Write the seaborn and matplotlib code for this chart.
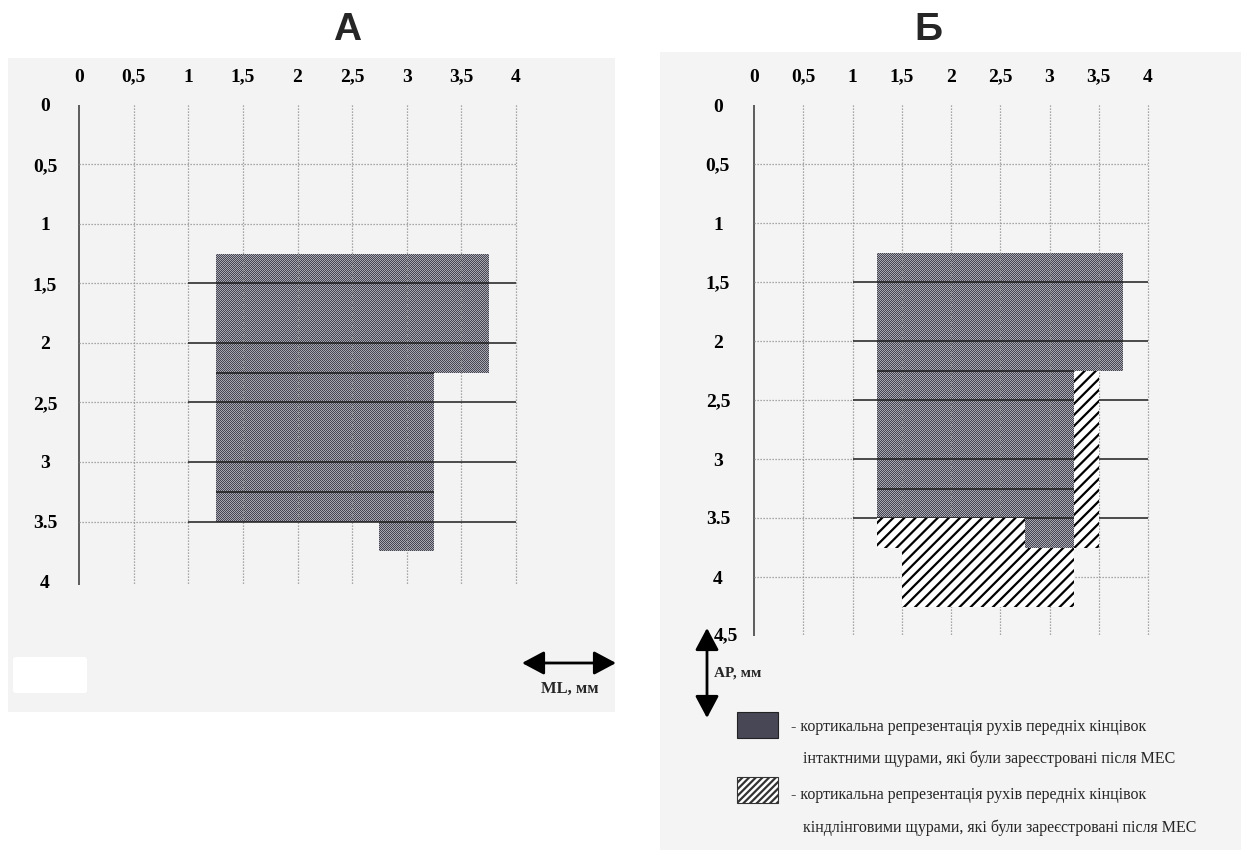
import numpy as np
import matplotlib
matplotlib.use("Agg")
import matplotlib.pyplot as plt
import seaborn as sns
from matplotlib.path import Path
from matplotlib.patches import PathPatch, Rectangle, FancyBboxPatch
from matplotlib.transforms import ScaledTranslation

# ---- coordinate grid (mm) ----
ml_ticks = [0, 0.5, 1, 1.5, 2, 2.5, 3, 3.5, 4]
ml_labels = ["0", "0,5", "1", "1,5", "2", "2,5", "3", "3,5", "4"]
ap_ticks_a = [0, 0.5, 1, 1.5, 2, 2.5, 3, 3.5, 4]
ap_labels_a = ["0", "0,5", "1", "1,5", "2", "2,5", "3", "3.5", "4"]
ap_ticks_b = [0, 0.5, 1, 1.5, 2, 2.5, 3, 3.5, 4, 4.5]
ap_labels_b = ["0", "0,5", "1", "1,5", "2", "2,5", "3", "3.5", "4", "4,5"]

# ---- forelimb representation, intact rats (ML from/to, AP from/to, mm) ----
intact_ml_from = [1.25, 1.25, 2.75]
intact_ml_to = [3.75, 3.25, 3.25]
intact_ap_from = [1.25, 2.25, 3.5]
intact_ap_to = [2.25, 3.5, 3.75]

# ---- additional representation, kindled rats ----
kindled_ml_from = [3.25, 1.25, 1.5]
kindled_ml_to = [3.5, 2.75, 3.25]
kindled_ap_from = [2.25, 3.5, 3.75]
kindled_ap_to = [3.75, 3.75, 4.25]

panel_titles = ["А", "Б"]
legend_intact = ["- кортикальна репрезентація рухів передніх кінцівок",
                 "інтактними щурами, які були зареєстровані після МЕС"]
legend_kindled = ["- кортикальна репрезентація рухів передніх кінцівок",
                  "кіндлінговими щурами, які були зареєстровані після МЕС"]

sns.set_theme(style="white")
plt.rcParams["font.family"] = ["Liberation Serif", "DejaVu Serif"]
plt.rcParams["hatch.linewidth"] = 1.6
plt.rcParams["hatch.color"] = "black"

W, H = 1241, 850
fig = plt.figure(figsize=(W / 100, H / 100), dpi=100, facecolor="white")


def fig_rect(x0, y0, x1, y1):
    return [x0 / W, 1 - y1 / H, (x1 - x0) / W, (y1 - y0) / H]


# page layer (panel backgrounds), in pixel units
ax_bg = fig.add_axes([0, 0, 1, 1], zorder=0)
ax_bg.set_xlim(0, W)
ax_bg.set_ylim(H, 0)
ax_bg.axis("off")
ax_bg.add_patch(Rectangle((8, 58), 607, 654, color="#f3f3f3", lw=0))
ax_bg.add_patch(Rectangle((660, 52), 581, 798, color="#f4f4f4", lw=0))
ax_bg.add_patch(FancyBboxPatch((16, 660), 68, 30, boxstyle="round,pad=3",
                               color="white", lw=0))

DOT = (0, (1.0, 1.4))


def halftone(ax, bars, ap_max, w_px, h_px):
    """Fine print-screen texture inside the shaded representation."""
    ii, jj = np.indices((h_px, w_px))
    dark = np.array([0x44, 0x44, 0x52]) / 255
    light = np.array([0xa8, 0xa8, 0xb0]) / 255
    img = np.where(((ii + jj) % 2 == 0)[..., None], dark, light)
    im = ax.imshow(img, extent=(0, 4, ap_max, 0), interpolation="nearest",
                   aspect="auto", zorder=1.5)
    path = Path.make_compound_path(
        *[b.get_path().transformed(b.get_patch_transform()) for b in bars])
    im.set_clip_path(PathPatch(path, transform=ax.transData))


def panel(rect_px, ap_max, ap_ticks, ap_labels, ylab_pad, extra_dotted):
    x0, y0, x1, y1 = rect_px
    ax = fig.add_axes(fig_rect(*rect_px), zorder=1)
    ax.patch.set_alpha(0)
    for s in ax.spines.values():
        s.set_visible(False)

    bars = ax.bar(x=intact_ml_from,
                  height=np.subtract(intact_ap_to, intact_ap_from),
                  width=np.subtract(intact_ml_to, intact_ml_from),
                  bottom=intact_ap_from,
                  align="edge", color="#76767f", linewidth=0, zorder=1)
    halftone(ax, bars, ap_max, x1 - x0, y1 - y0)

    line_end = ap_max + (0.03 if ap_max == 4 else 0)
    ax.vlines(0, 0, line_end, color="#505050", lw=1.3, zorder=3, clip_on=False)
    ax.vlines(ml_ticks[1:], 0, line_end, color="#8e8e8e", lw=0.9,
              linestyles=DOT, zorder=3, clip_on=False)
    ax.hlines([0.5, 1] + extra_dotted, 0, 4, color="#8e8e8e", lw=0.9,
              linestyles=DOT, zorder=3)
    rows = [1.5, 2, 2.5, 3, 3.5]
    ax.hlines(rows, 0, 1, color="#8e8e8e", lw=0.9, linestyles=DOT, zorder=3)
    ax.hlines(rows, 1, 4, color="#1c1c1c", lw=1.1, zorder=3)
    ax.hlines([2.25, 3.25], 1.25, 3.25, color="#1c1c1c", lw=1.1, zorder=3)

    ax.set_xlim(0, 4)
    ax.set_ylim(ap_max, 0)
    ax.xaxis.tick_top()
    ax.set_xticks(ml_ticks, ml_labels)
    ax.set_yticks(ap_ticks, ap_labels)
    ax.tick_params(axis="x", length=0, pad=14, labelsize=14, colors="black")
    ax.tick_params(axis="y", length=0, pad=ylab_pad, labelsize=14, colors="black")
    for lab in ax.get_xticklabels() + ax.get_yticklabels():
        lab.set_fontweight("bold")
    for lab in ax.get_yticklabels():
        lab.set_horizontalalignment("center")
    return ax


ax_a = panel((79, 105, 516, 581), 4, ap_ticks_a, ap_labels_a, 24.5, [])
ax_b = panel((754, 105, 1148, 636), 4.5, ap_ticks_b, ap_labels_b, 26, [4])

# the last AP label of panel Б sits just right of the AP arrow
last = ax_b.get_yticklabels()[-1]
last.set_transform(last.get_transform()
                   + ScaledTranslation(0.08, 0.02, fig.dpi_scale_trans))

ax_b.bar(x=kindled_ml_from,
         height=np.subtract(kindled_ap_to, kindled_ap_from),
         width=np.subtract(kindled_ml_to, kindled_ml_from),
         bottom=kindled_ap_from,
         align="edge", color="white", edgecolor="black", hatch="///",
         linewidth=0, zorder=4)

# annotation layer
ax_ov = fig.add_axes([0, 0, 1, 1], zorder=5)
ax_ov.set_xlim(0, W)
ax_ov.set_ylim(H, 0)
ax_ov.axis("off")
ax_ov.patch.set_alpha(0)

for (cx, title) in zip([347, 928], panel_titles):
    ax_ov.text(cx, 30, title, ha="center", va="center", fontsize=28,
               fontweight="bold", family=["Liberation Sans", "DejaVu Sans"])

arrow = dict(arrowstyle="<|-|>,head_length=0.75,head_width=0.4",
             color="black", lw=2, mutation_scale=18, shrinkA=0, shrinkB=0)
ax_ov.annotate("", xy=(616, 663), xytext=(522, 663), arrowprops=arrow)
ax_ov.text(570, 689, "ML, мм", ha="center", va="center", fontsize=12,
           fontweight="bold")
ax_ov.annotate("", xy=(707, 628), xytext=(707, 718), arrowprops=arrow)
ax_ov.text(714, 673, "AP, мм", ha="left", va="center", fontsize=11,
           fontweight="bold")

# legend
ax_ov.add_patch(Rectangle((737, 712), 41, 26, facecolor="#474756",
                          edgecolor="#222222", lw=0.8))
ax_ov.add_patch(Rectangle((737, 777), 41, 26, facecolor="white",
                          edgecolor="#333333", hatch="/////", lw=0.8))
LEG_FS = 11.5
ax_ov.text(791, 727, legend_intact[0], ha="left", va="center", fontsize=LEG_FS)
ax_ov.text(803, 759, legend_intact[1], ha="left", va="center", fontsize=LEG_FS)
ax_ov.text(791, 795, legend_kindled[0], ha="left", va="center", fontsize=LEG_FS)
ax_ov.text(803, 828, legend_kindled[1], ha="left", va="center", fontsize=LEG_FS)

fig.savefig("out.png", dpi=100, facecolor="white")
